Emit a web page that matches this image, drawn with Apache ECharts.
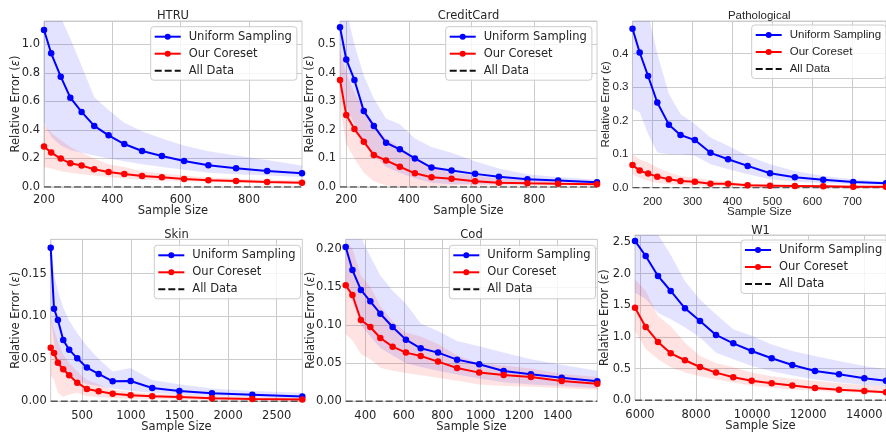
<!DOCTYPE html>
<html><head><meta charset="utf-8">
<script src="https://cdn.jsdelivr.net/npm/echarts@6/dist/echarts.min.js"></script>
<style>html,body{margin:0;padding:0;background:#fff}#c{width:886px;height:432px}</style>
</head><body><div id="c"></div>
<script>
// ---------------- DATA ----------------
const htruSize = [200, 221, 249, 277, 310, 347, 389, 435, 487, 545, 610, 681, 762, 853, 955];
const htruUniform = [1.10, 0.937, 0.773, 0.626, 0.526, 0.428, 0.362, 0.301, 0.252, 0.217, 0.182, 0.152, 0.131, 0.112, 0.096];
const htruCoreset = [0.283, 0.241, 0.199, 0.166, 0.150, 0.124, 0.105, 0.091, 0.077, 0.068, 0.056, 0.047, 0.042, 0.035, 0.030];
const htruUniformLo = [0.45, 0.35, 0.29, 0.26, 0.24, 0.22, 0.20, 0.18, 0.16, 0.14, 0.12, 0.10, 0.09, 0.08, 0.07];
const htruUniformHi = [1.40, 1.30, 1.19, 1.04, 0.85, 0.63, 0.54, 0.45, 0.39, 0.34, 0.29, 0.25, 0.22, 0.19, 0.15];
const htruCoresetLo = [0.14, 0.13, 0.11, 0.10, 0.09, 0.08, 0.07, 0.06, 0.05, 0.045, 0.04, 0.035, 0.03, 0.025, 0.02];
const htruCoresetHi = [0.44, 0.38, 0.33, 0.28, 0.24, 0.20, 0.16, 0.14, 0.11, 0.095, 0.08, 0.065, 0.06, 0.05, 0.045];
const htruAllData = [0, 0, 0, 0, 0, 0, 0, 0, 0, 0, 0, 0, 0, 0, 0];
const htruXTicks = [200, 400, 600, 800];

const ccSize = [180, 200, 226, 256, 288, 327, 371, 419, 472, 536, 611, 687, 778, 876, 1000];
const ccUniform = [0.560, 0.447, 0.375, 0.266, 0.214, 0.155, 0.132, 0.100, 0.068, 0.058, 0.046, 0.036, 0.027, 0.023, 0.017];
const ccCoreset = [0.375, 0.252, 0.203, 0.159, 0.112, 0.093, 0.071, 0.048, 0.034, 0.029, 0.020, 0.015, 0.013, 0.011, 0.010];
const ccUniformLo = [0.38, 0.28, 0.22, 0.15, 0.11, 0.07, 0.05, 0.03, 0.015, 0.01, 0.01, 0.01, 0.01, 0.01, 0.01];
const ccUniformHi = [0.75, 0.62, 0.50, 0.39, 0.31, 0.24, 0.22, 0.17, 0.14, 0.12, 0.09, 0.065, 0.045, 0.035, 0.025];
const ccCoresetLo = [0.28, 0.15, 0.10, 0.05, 0.02, 0.005, 0.0, 0.0, 0.0, 0.005, 0.005, 0.005, 0.005, 0.005, 0.005];
const ccCoresetHi = [0.48, 0.40, 0.33, 0.27, 0.22, 0.17, 0.14, 0.10, 0.07, 0.05, 0.04, 0.03, 0.025, 0.02, 0.018];
const ccAllData = [0, 0, 0, 0, 0, 0, 0, 0, 0, 0, 0, 0, 0, 0, 0];
const ccXTicks = [200, 400, 600, 800];

const patSize = [150, 168, 189, 212, 241, 270, 306, 345, 389, 438, 494, 556, 627, 702, 784];
const patUniform = [0.474, 0.403, 0.333, 0.254, 0.188, 0.157, 0.142, 0.104, 0.085, 0.065, 0.043, 0.031, 0.024, 0.017, 0.013];
const patCoreset = [0.0675, 0.051, 0.042, 0.033, 0.025, 0.020, 0.018, 0.012, 0.012, 0.007, 0.006, 0.005, 0.004, 0.003, 0.003];
const patUniformLo = [0.235, 0.225, 0.16, 0.105, 0.10, 0.10, 0.095, 0.07, 0.055, 0.04, 0.025, 0.018, 0.014, 0.01, 0.008];
const patUniformHi = [0.60, 0.58, 0.52, 0.40, 0.28, 0.22, 0.19, 0.15, 0.125, 0.095, 0.07, 0.05, 0.035, 0.025, 0.018];
const patCoresetLo = [0.04, 0.03, 0.02, 0.015, 0.01, 0.008, 0.007, 0.005, 0.004, 0.003, 0.002, 0.002, 0.002, 0.001, 0.001];
const patCoresetHi = [0.10, 0.085, 0.075, 0.06, 0.045, 0.035, 0.03, 0.022, 0.018, 0.012, 0.01, 0.008, 0.007, 0.006, 0.005];
const patAllData = [0, 0, 0, 0, 0, 0, 0, 0, 0, 0, 0, 0, 0, 0, 0];
const patXTicks = [200, 300, 400, 500, 600, 700];

const skinSize = [176, 210, 250, 305, 366, 449, 548, 669, 813, 998, 1220, 1499, 1834, 2249, 2763];
const skinUniform = [0.1806, 0.1089, 0.0956, 0.0721, 0.0607, 0.0505, 0.0396, 0.0321, 0.0235, 0.0239, 0.0157, 0.0121, 0.0094, 0.0078, 0.0055];
const skinCoreset = [0.063, 0.0568, 0.0454, 0.0376, 0.0306, 0.0219, 0.0145, 0.0118, 0.009, 0.007, 0.0059, 0.0051, 0.0035, 0.0027, 0.002];
const skinUniformLo = [0.10, 0.07, 0.04, 0.035, 0.03, 0.025, 0.02, 0.018, 0.015, 0.012, 0.01, 0.008, 0.006, 0.005, 0.003];
const skinUniformHi = [0.20, 0.15, 0.13, 0.11, 0.095, 0.08, 0.065, 0.05, 0.035, 0.039, 0.025, 0.02, 0.015, 0.012, 0.01];
const skinCoresetLo = [0.03, 0.025, 0.01, 0.005, 0.008, 0.01, 0.006, 0.005, 0.004, 0.003, 0.003, 0.002, 0.001, 0.001, 0.001];
const skinCoresetHi = [0.10, 0.085, 0.07, 0.055, 0.045, 0.035, 0.025, 0.02, 0.014, 0.011, 0.009, 0.008, 0.006, 0.005, 0.004];
const skinAllData = [0, 0, 0, 0, 0, 0, 0, 0, 0, 0, 0, 0, 0, 0, 0];
const skinXTicks = [500, 1000, 1500, 2000, 2500];

const codSize = [298, 333, 377, 426, 478, 542, 611, 688, 778, 877, 992, 1119, 1261, 1421, 1606];
const codUniform = [0.2022, 0.172, 0.1459, 0.131, 0.1148, 0.0974, 0.0808, 0.0694, 0.0638, 0.0546, 0.0485, 0.0397, 0.0354, 0.031, 0.0262];
const codCoreset = [0.152, 0.1393, 0.1066, 0.0974, 0.083, 0.0716, 0.0638, 0.0594, 0.052, 0.0437, 0.0376, 0.0345, 0.0319, 0.0266, 0.0231];
const codUniformLo = [0.15, 0.13, 0.10, 0.085, 0.07, 0.06, 0.05, 0.045, 0.04, 0.035, 0.03, 0.025, 0.022, 0.02, 0.017];
const codUniformHi = [0.26, 0.24, 0.215, 0.19, 0.165, 0.145, 0.128, 0.102, 0.092, 0.079, 0.072, 0.064, 0.055, 0.048, 0.04];
const codCoresetLo = [0.088, 0.08, 0.062, 0.055, 0.044, 0.04, 0.037, 0.034, 0.031, 0.027, 0.022, 0.02, 0.019, 0.017, 0.015];
const codCoresetHi = [0.21, 0.20, 0.165, 0.15, 0.125, 0.105, 0.09, 0.085, 0.075, 0.06, 0.05, 0.047, 0.043, 0.036, 0.032];
const codAllData = [0, 0, 0, 0, 0, 0, 0, 0, 0, 0, 0, 0, 0, 0, 0];
const codXTicks = [400, 600, 800, 1000, 1200, 1400];

const w1Size = [5822, 6203, 6642, 7095, 7605, 8140, 8710, 9327, 9984, 10697, 11432, 12241, 13097, 14000, 14773];
const w1Uniform = [2.516, 2.279, 1.963, 1.726, 1.453, 1.253, 1.032, 0.90, 0.779, 0.663, 0.558, 0.463, 0.41, 0.347, 0.31];
const w1Coreset = [1.463, 1.158, 0.921, 0.742, 0.632, 0.526, 0.437, 0.363, 0.31, 0.268, 0.232, 0.195, 0.168, 0.147, 0.126];
const w1UniformLo = [1.7, 1.6, 1.38, 1.28, 1.15, 0.99, 0.75, 0.65, 0.54, 0.46, 0.39, 0.33, 0.28, 0.24, 0.22];
const w1UniformHi = [3.0, 2.85, 2.62, 2.3, 1.88, 1.59, 1.36, 1.12, 1.02, 0.88, 0.78, 0.70, 0.62, 0.54, 0.49];
const w1CoresetLo = [1.09, 0.81, 0.65, 0.52, 0.44, 0.38, 0.33, 0.28, 0.23, 0.20, 0.17, 0.15, 0.13, 0.12, 0.105];
const w1CoresetHi = [1.91, 1.73, 1.33, 1.17, 0.91, 0.70, 0.59, 0.52, 0.44, 0.38, 0.34, 0.31, 0.27, 0.24, 0.22];
const w1AllData = [0, 0, 0, 0, 0, 0, 0, 0, 0, 0, 0, 0, 0, 0, 0];
const w1XTicks = [6000, 8000, 10000, 12000, 14000];

// ---------------- LAYOUT ----------------
const DV = "'DejaVu Sans', sans-serif";
const LS = "'Liberation Sans', Arial, sans-serif";
const FS = 11.5;
const TXT = '#262626';
const GRIDC = '#cccccc';

const panels = [
  {title:'HTRU', x:htruSize, u:htruUniform, c:htruCoreset, uLo:htruUniformLo, uHi:htruUniformHi, cLo:htruCoresetLo, cHi:htruCoresetHi, z:htruAllData, xt:htruXTicks,
   yMax:1.163, yInt:0.2, dec:1, font:DV, g:[44,21,258,166], lg:[150.7,26.7], tY:10, yGap:22, xGap:18.5, xMargin:7.5},
  {title:'CreditCard', x:ccSize, u:ccUniform, c:ccCoreset, uLo:ccUniformLo, uHi:ccUniformHi, cLo:ccCoresetLo, cHi:ccCoresetHi, z:ccAllData, xt:ccXTicks,
   yMax:0.5817, yInt:0.1, dec:1, font:DV, g:[340,21,257,166], lg:[445.7,26.7], tY:10, yGap:23.5, xGap:18.5, xMargin:7.5},
  {title:'Pathological', x:patSize, u:patUniform, c:patCoreset, uLo:patUniformLo, uHi:patUniformHi, cLo:patCoresetLo, cHi:patCoresetHi, z:patAllData, xt:patXTicks,
   yMax:0.497, yInt:0.1, dec:1, font:LS, g:[632.5,21,253.5,166.7], lg:[751.7,25], tY:10, yGap:21, xGap:18.5, xMargin:8},
  {title:'Skin', x:skinSize, u:skinUniform, c:skinCoreset, uLo:skinUniformLo, uHi:skinUniformHi, cLo:skinCoresetLo, cHi:skinCoresetHi, z:skinAllData, xt:skinXTicks,
   yMax:0.1904, yInt:0.05, dec:2, font:DV, g:[50.7,239.3,251.6,162], lg:[154.3,245.3], tY:229.5, yGap:29, xGap:19.5, xMargin:9},
  {title:'Cod', x:codSize, u:codUniform, c:codCoreset, uLo:codUniformLo, uHi:codUniformHi, cLo:codCoresetLo, cHi:codCoresetHi, z:codAllData, xt:codXTicks,
   yMax:0.2123, yInt:0.05, dec:2, font:DV, g:[345.7,239.3,251.6,162], lg:[449.3,245.3], tY:229.5, yGap:29, xGap:19.5, xMargin:9},
  {title:'W1', x:w1Size, u:w1Uniform, c:w1Coreset, uLo:w1UniformLo, uHi:w1UniformHi, cLo:w1CoresetLo, cHi:w1CoresetHi, z:w1AllData, xt:w1XTicks,
   yMax:2.61, yInt:0.5, dec:1, font:DV, g:[635,235,251,165.3], lg:[741,240], tY:225.5, yGap:23.5, xGap:19.5, xMargin:9}
];

const grids = [], xAxes = [], yAxes = [], series = [], legends = [], titles = [];

function band(gi, xs, lo, hi, color) {
  const data = xs.map((x, k) => [x, lo[k], hi[k]]);
  return {
    type: 'custom', xAxisIndex: gi, yAxisIndex: gi, clip: true, silent: true, z: 1,
    data: data, encode: {x: 0, y: [1, 2]},
    renderItem: function (params, api) {
      if (params.dataIndex !== 0) return null;
      const pts = [];
      for (let k = 0; k < data.length; k++) pts.push(api.coord([data[k][0], data[k][2]]));
      for (let k = data.length - 1; k >= 0; k--) pts.push(api.coord([data[k][0], data[k][1]]));
      return {type: 'polygon', shape: {points: pts}, style: {fill: color}};
    }
  };
}

panels.forEach((p, i) => {
  const tStyle = {fontSize: FS, color: TXT, fontFamily: p.font};
  grids.push({left: p.g[0], top: p.g[1], width: p.g[2], height: p.g[3], show: true, borderColor: GRIDC, borderWidth: 1,
    backgroundColor: '#ffffff', containLabel: false, outerBoundsMode: 'none'});
  xAxes.push({type: 'value', gridIndex: i, min: p.x[0], max: p.x[p.x.length - 1],
    name: 'Sample Size', nameLocation: 'middle', nameGap: p.xGap, nameMoveOverlap: false, nameTextStyle: tStyle,
    axisLine: {show: false}, axisTick: {show: false, customValues: p.xt},
    axisLabel: {customValues: p.xt, margin: p.xMargin, fontSize: FS, color: TXT, fontFamily: p.font,
      formatter: (v) => String(v)},
    splitLine: {show: true, lineStyle: {color: GRIDC, width: 1}}});
  yAxes.push({type: 'value', gridIndex: i, min: 0, max: p.yMax, interval: p.yInt,
    name: 'Relative Error ({e|ε})', nameLocation: 'middle', nameGap: p.yGap, nameMoveOverlap: false,
    nameTextStyle: Object.assign({}, tStyle, {rich: {e: {fontStyle: 'italic', fontSize: FS, color: TXT, fontFamily: p.font}}}),
    axisLine: {show: false}, axisTick: {show: false},
    axisLabel: {margin: 4, fontSize: FS, color: TXT, fontFamily: p.font, showMaxLabel: false,
      formatter: (v) => v.toFixed(p.dec)},
    splitLine: {show: true, lineStyle: {color: GRIDC, width: 1}}});
  series.push(band(i, p.x, p.uLo, p.uHi, 'rgba(0,0,255,0.11)'));
  series.push(band(i, p.x, p.cLo, p.cHi, 'rgba(255,0,0,0.11)'));
  series.push({type: 'line', name: 'Uniform Sampling', xAxisIndex: i, yAxisIndex: i,
    data: p.x.map((x, k) => [x, p.u[k]]), symbol: 'circle', symbolSize: 6.5,
    lineStyle: {color: '#0000ff', width: 2}, itemStyle: {color: '#0000ff'}, z: 3});
  series.push({type: 'line', name: 'Our Coreset', xAxisIndex: i, yAxisIndex: i,
    data: p.x.map((x, k) => [x, p.c[k]]), symbol: 'circle', symbolSize: 6.5,
    lineStyle: {color: '#ff0000', width: 2}, itemStyle: {color: '#ff0000'}, z: 3});
  series.push({type: 'line', name: 'All Data', xAxisIndex: i, yAxisIndex: i,
    data: p.x.map((x, k) => [x, p.z[k]]), symbol: 'none',
    lineStyle: {color: '#555555', width: 1.5, type: [7, 3]}, itemStyle: {color: '#555555'}, z: 2});
  legends.push({left: p.lg[0], top: p.lg[1], orient: 'vertical', selectedMode: false,
    data: [{name: 'Uniform Sampling'}, {name: 'Our Coreset'},
           {name: 'All Data', itemStyle: {opacity: 0}, lineStyle: {color: '#111111'}}],
    itemWidth: 26, itemHeight: 7.5, itemGap: 0, padding: [1.5, 5, 1, 3],
    backgroundColor: 'rgba(255,255,255,0.8)', borderColor: GRIDC, borderWidth: 1, borderRadius: 3,
    textStyle: {fontSize: FS, color: TXT, fontFamily: p.font, lineHeight: 17, padding: [0, 0, 0, 3]}});
  titles.push({text: p.title, left: p.g[0] + p.g[2] / 2, top: p.tY, textAlign: 'center', padding: 0,
    textStyle: {fontSize: FS, fontWeight: 'normal', color: TXT, fontFamily: p.font}});
});

const chart = echarts.init(document.getElementById('c'), null, {renderer: 'canvas'});
chart.setOption({
  animation: false,
  backgroundColor: '#ffffff',
  textStyle: {fontFamily: DV},
  title: titles, grid: grids, xAxis: xAxes, yAxis: yAxes, legend: legends, series: series
});
</script>
</body></html>
